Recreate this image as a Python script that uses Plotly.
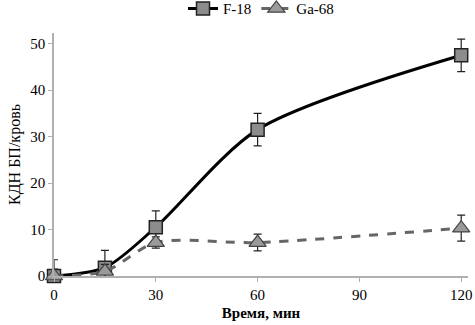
import plotly.graph_objects as go

time_min = [0, 15, 30, 60, 120]
f18_values = [0, 1.8, 10.5, 31.5, 47.5]
f18_errors = [3.5, 3.7, 3.5, 3.5, 3.5]
ga68_values = [0, 1.0, 7.2, 7.2, 10.3]
ga68_errors = [1.5, 1.5, 1.2, 1.8, 2.8]
x_ticks = [0, 30, 60, 90, 120]
y_ticks = [0, 10, 20, 30, 40, 50]

font = "'Liberation Serif', 'Times New Roman', serif"

fig = go.Figure()
fig.add_trace(go.Scatter(
    x=time_min, y=f18_values, name="F-18", mode="lines+markers", cliponaxis=False,
    line=dict(color="black", width=3, shape="spline", smoothing=0.8),
    marker=dict(symbol="square", size=13, color="#8c8c8c", line=dict(color="#222", width=1.5)),
    error_y=dict(type="data", array=f18_errors, color="#222", thickness=1.2, width=4),
))
fig.add_trace(go.Scatter(
    x=time_min, y=ga68_values, name="Ga-68", mode="lines+markers", cliponaxis=False,
    line=dict(color="#666666", width=3, dash="dash", shape="spline", smoothing=0.8),
    marker=dict(symbol="triangle-up", size=15, color="#9a9a9a", line=dict(color="#444", width=1.2)),
    error_y=dict(type="data", array=ga68_errors, color="#222", thickness=1.2, width=4),
))

fig.update_layout(
    width=475, height=325,
    margin=dict(l=54, r=7, t=33, b=49, autoexpand=False),
    paper_bgcolor="white", plot_bgcolor="white",
    font=dict(family=font, size=15, color="black"),
    showlegend=True,
    legend=dict(orientation="h", x=0.5, xanchor="center", y=1.1, yanchor="middle",
                font=dict(family=font, size=15), tracegroupgap=0),
)
fig.update_xaxes(
    range=[0, 122], tickvals=x_ticks, showgrid=False, zeroline=False,
    showline=True, linecolor="#b0b0b0", linewidth=1.5, automargin=False,
    ticks="outside", tickcolor="#b0b0b0", ticklen=4,
    tickfont=dict(family=font, size=15),
    title=dict(text="<b>Время, мин</b>", font=dict(family=font, size=15), standoff=6),
)
fig.update_yaxes(
    range=[0, 52.3], tickvals=y_ticks, showgrid=False, zeroline=False,
    showline=True, linecolor="#b0b0b0", linewidth=1.5, automargin=False,
    ticks="outside", tickcolor="#b0b0b0", ticklen=4,
    tickfont=dict(family=font, size=15),
    title=dict(text="КДН БП/кровь", font=dict(family=font, size=16), standoff=6),
)
fig.write_html("out.html", config={"displayModeBar": False},
               post_script="document.body.style.margin='0';document.body.style.padding='0';")
